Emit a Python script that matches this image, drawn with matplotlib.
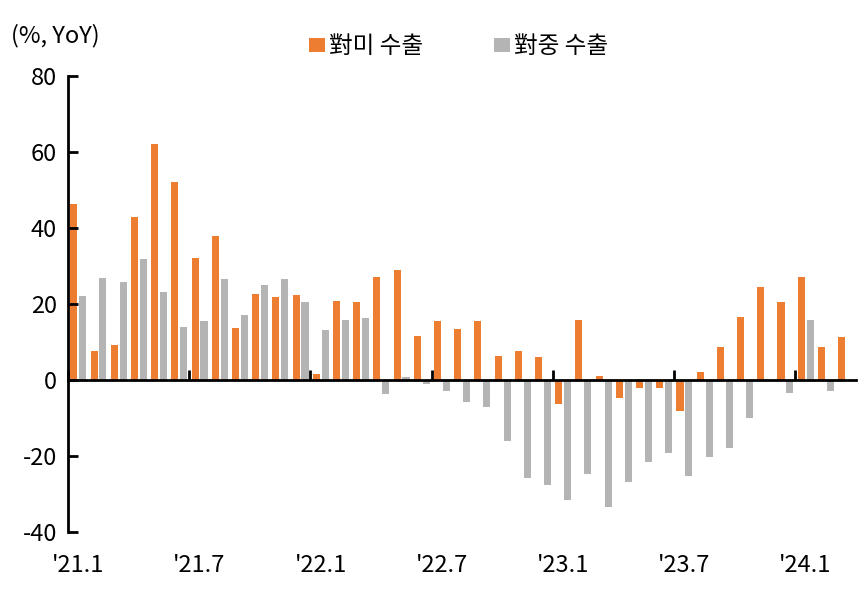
import numpy as np
import matplotlib.pyplot as plt

plt.rcParams['font.family'] = ['Noto Sans CJK KR', 'DejaVu Sans']
plt.rcParams['axes.unicode_minus'] = False

# monthly YoY export growth, 2021.1 ~ 2024.3
us_exports = [46.4, 7.6, 9.1, 43.0, 62.2, 52.0, 32.1, 37.8, 13.8, 22.7, 21.9, 22.5,
              1.6, 20.7, 20.6, 27.0, 28.9, 11.7, 15.5, 13.3, 15.5, 6.2, 7.7, 6.0,
              -6.4, 15.9, 1.1, -4.7, -2.0, -2.2, -8.2, 2.0, 8.6, 16.7, 24.5, 20.4,
              27.0, 8.8, 11.4]
cn_exports = [22.0, 26.9, 25.7, 31.8, 23.1, 13.9, 15.5, 26.6, 17.0, 24.9, 26.6, 20.4,
              13.1, 15.9, 16.4, -3.7, 0.9, -1.1, -3.0, -5.7, -7.0, -16.1, -25.9, -27.5,
              -31.6, -24.7, -33.5, -26.9, -21.5, -19.3, -25.3, -20.2, -18.0, -9.9, np.nan, -3.3,
              15.9, -2.8, np.nan]
tick_labels = ["'21.1", "'21.7", "'22.1", "'22.7", "'23.1", "'23.7", "'24.1"]
tick_months = [0, 6, 12, 18, 24, 30, 36]

orange = '#ED7D31'
gray = '#B4B4B4'

fig = plt.figure(figsize=(8.64, 6.01), dpi=100)
ax = fig.add_axes([0.0787, 0.1148, 0.912, 0.7587])

x = np.arange(len(us_exports))
b1 = ax.bar(x + 0.29, us_exports, width=0.35, color=orange, label='對미 수출')
b2 = ax.bar(x + 0.73, cn_exports, width=0.35, color=gray, label='對중 수출')

ax.set_xlim(0, len(us_exports))
ax.set_ylim(-40, 80)
ax.set_yticks(np.arange(-40, 81, 20))
ax.tick_params(axis='y', direction='in', length=7, width=2, labelsize=17, pad=8)

ax.spines['top'].set_visible(False)
ax.spines['right'].set_visible(False)
ax.spines['left'].set_linewidth(2)
ax.spines['bottom'].set_position(('data', 0))
ax.spines['bottom'].set_linewidth(2)
ax.set_xticks(tick_months)
ax.tick_params(axis='x', direction='in', length=7, width=2, labelbottom=False)

for m, lab in zip(tick_months, tick_labels):
    ax.text(m + 0.5, -0.074, lab, transform=ax.get_xaxis_transform(),
            ha='center', va='center', fontsize=17)

fig.text(0.013, 0.94, '(%, YoY)', fontsize=17, ha='left', va='center')

ax.legend(handles=[b1, b2], loc='center', bbox_to_anchor=(0.531, 0.922),
          bbox_transform=fig.transFigure, ncol=2, frameon=False, fontsize=17,
          handlelength=0.65, handleheight=0.5, handletextpad=0.2, columnspacing=3.0)

fig.savefig('out.png', dpi=100)
